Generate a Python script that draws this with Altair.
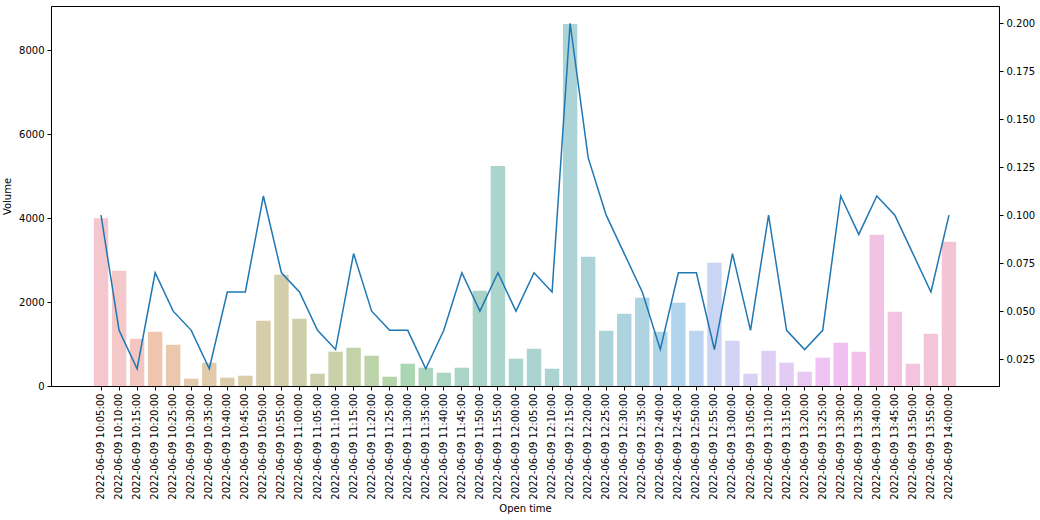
import math
import colorsys
import altair as alt
import pandas as pd

times = [
    "10:05", "10:10", "10:15", "10:20", "10:25", "10:30", "10:35", "10:40", "10:45", "10:50",
    "10:55", "11:00", "11:05", "11:10", "11:15", "11:20", "11:25", "11:30", "11:35", "11:40",
    "11:45", "11:50", "11:55", "12:00", "12:05", "12:10", "12:15", "12:20", "12:25", "12:30",
    "12:35", "12:40", "12:45", "12:50", "12:55", "13:00", "13:05", "13:10", "13:15", "13:20",
    "13:25", "13:30", "13:35", "13:40", "13:45", "13:50", "13:55", "14:00",
]
labels = ["2022-06-09 " + t + ":00" for t in times]

volume = [
    4000, 2745, 1126, 1293, 983, 174, 555, 198, 245, 1555,
    2650, 1602, 293, 817, 912, 721, 221, 531, 436, 317,
    436, 2269, 5245, 650, 888, 412, 8627, 3079, 1317, 1721,
    2102, 1293, 1983, 1317, 2936, 1079, 293, 840, 555, 340,
    674, 1031, 817, 3603, 1769, 531, 1245, 3436,
]

ratio = [
    0.10, 0.04, 0.02, 0.07, 0.05, 0.04, 0.02, 0.06, 0.06, 0.11,
    0.07, 0.06, 0.04, 0.03, 0.08, 0.05, 0.04, 0.04, 0.02, 0.04,
    0.07, 0.05, 0.07, 0.05, 0.07, 0.06, 0.20, 0.13, 0.10, 0.08,
    0.06, 0.03, 0.07, 0.07, 0.03, 0.08, 0.04, 0.10, 0.04, 0.03,
    0.04, 0.11, 0.09, 0.11, 0.10, 0.08, 0.06, 0.10,
]

# ---- husl palette (as seaborn's husl_palette), desaturated like seaborn barplot ----
M = [[3.2406, -1.5372, -0.4986], [-0.9689, 1.8758, 0.0415], [0.0557, -0.2040, 1.0570]]
refU, refV, lab_e, lab_k = 0.19784, 0.46834, 0.008856, 903.3


def max_chroma(L, H):
    hrad = math.radians(H)
    sinH, cosH = math.sin(hrad), math.cos(hrad)
    sub1 = (L + 16) ** 3 / 1560896.0
    sub2 = sub1 if sub1 > lab_e else L / lab_k
    res = float("inf")
    for m1, m2, m3 in M:
        top = (0.99915 * m1 + 1.05122 * m2 + 1.14460 * m3) * sub2
        rb = 0.86330 * m3 - 0.17266 * m2
        lb = 0.12949 * m3 - 0.38848 * m1
        bottom = (rb * sinH + lb * cosH) * sub2
        for t in (0.0, 1.0):
            C = L * (top - 1.05122 * t) / (bottom + 0.17266 * sinH * t)
            if 0 < C < res:
                res = C
    return res


def husl_to_rgb(H, S, L):
    C = max_chroma(L, H) / 100.0 * S
    U = C * math.cos(math.radians(H))
    V = C * math.sin(math.radians(H))
    t = (L + 16) / 116.0
    Y = t ** 3 if t ** 3 > lab_e else (116 * t - 16) / lab_k
    vu = U / (13 * L) + refU
    vv = V / (13 * L) + refV
    X = -(9 * Y * vu) / ((vu - 4) * vv - vu * vv)
    Z = (9 * Y - 15 * vv * Y - vv * X) / (3 * vv)
    out = []
    for row in M:
        c = row[0] * X + row[1] * Y + row[2] * Z
        c = 12.92 * c if c <= 0.0031308 else 1.055 * c ** (1 / 2.4) - 0.055
        out.append(min(max(c, 0.0), 1.0))
    return out


def desaturate(rgb, prop):
    h, l, s = colorsys.rgb_to_hls(*rgb)
    return colorsys.hls_to_rgb(h, l, s * prop)


def to_hex(rgb):
    return "#%02x%02x%02x" % tuple(int(round(c * 255)) for c in rgb)


n = len(labels)
palette = []
for i in range(n):
    h = ((i / n) + 0.01) % 1.0 * 359
    palette.append(to_hex(desaturate(husl_to_rgb(h, 0.9 * 99, 0.65 * 99), 0.75)))

df = pd.DataFrame({"Open time": labels, "Volume": volume, "ratio": ratio})

font = "DejaVu Sans"

xenc = alt.X(
    "Open time:N",
    sort=labels,
    bandPosition=0.5,
    scale=alt.Scale(paddingInner=0.2, paddingOuter=0.1, range=[41, 907]),
    axis=alt.Axis(
        title="Open time",
        labelAngle=270,
        labelFontSize=10,
        titleFontSize=10,
        titleFontWeight="normal",
        titlePadding=4,
        tickSize=4,
        labelPadding=3,
        domain=False,
        tickColor="black",
        labelColor="black",
        titleColor="black",
        labelFont=font,
        titleFont=font,
    ),
)

bars = alt.Chart(df).mark_bar(opacity=0.45).encode(
    x=xenc,
    y=alt.Y(
        "Volume:Q",
        scale=alt.Scale(domain=[0, 9058], nice=False, zero=False),
        axis=alt.Axis(
            title="Volume",
            values=[0, 2000, 4000, 6000, 8000],
            format="d",
            grid=False,
            labelFontSize=10,
            titleFontSize=10,
            titleFontWeight="normal",
            tickSize=4,
            labelPadding=3,
            titlePadding=6,
            domainColor="black",
            tickColor="black",
            labelColor="black",
            titleColor="black",
            labelFont=font,
            titleFont=font,
        ),
    ),
    color=alt.Color("Open time:N", sort=labels,
                    scale=alt.Scale(domain=labels, range=palette), legend=None),
)

line = alt.Chart(df).mark_line(color="#1f77b4", strokeWidth=1.5).encode(
    x=xenc,
    y=alt.Y(
        "ratio:Q",
        scale=alt.Scale(domain=[0.011, 0.209], nice=False, zero=False),
        axis=alt.Axis(
            orient="right",
            title=None,
            values=[0.025, 0.05, 0.075, 0.1, 0.125, 0.15, 0.175, 0.2],
            format=".3f",
            grid=False,
            labelFontSize=10,
            tickSize=4,
            labelPadding=3,
            domainColor="black",
            tickColor="black",
            labelColor="black",
            labelFont=font,
        ),
    ),
)

chart = (
    alt.layer(bars, line)
    .resolve_scale(y="independent", color="independent")
    .properties(
        width=948,
        height=380,
        background="white",
        padding={"left": 51, "top": 6, "right": 41, "bottom": 134},
        autosize=alt.AutoSizeParams(type="none"),
    )
    .configure_view(stroke="black", strokeWidth=1)
)

chart.save("out.html", embed_options={"renderer": "svg", "actions": False})
